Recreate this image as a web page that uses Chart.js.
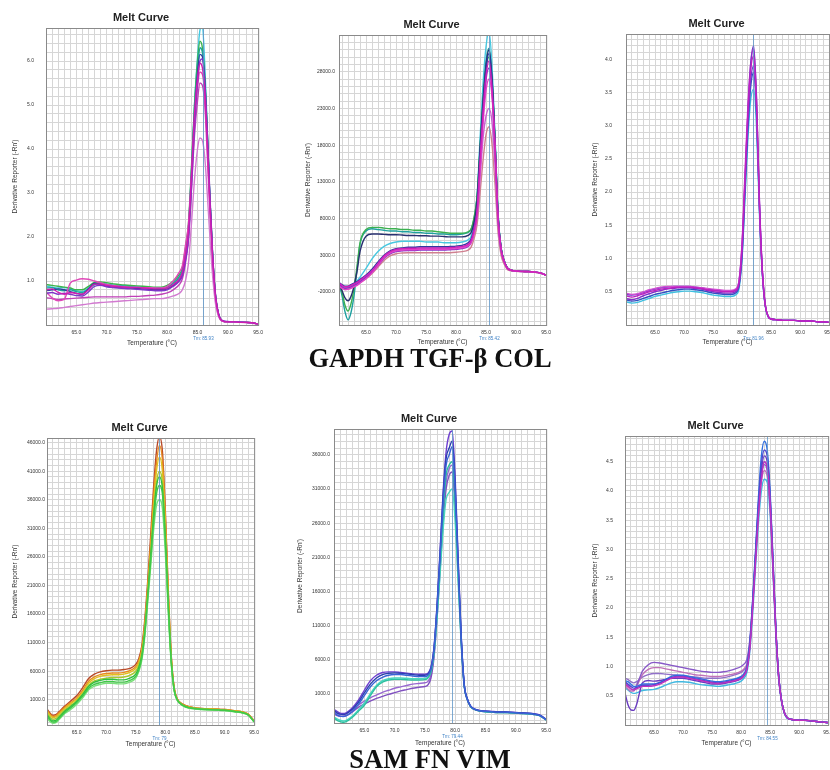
<!DOCTYPE html>
<html>
<head>
<meta charset="utf-8">
<script src="https://cdn.jsdelivr.net/npm/chart.js@4.4.1/dist/chart.umd.min.js"></script>
<style>
  html, body { margin: 0; padding: 0; width: 830px; height: 770px; overflow: hidden; background: #fff; }
  .panel { position: absolute; }
  .caption { position: absolute; left: 0; width: 860px; text-align: center; font-family: "Liberation Serif", "Times New Roman", serif; font-weight: bold; font-size: 26.5px; line-height: 26px; color: #111; }
</style>
</head>
<body>
<canvas id="gapdh" class="panel"></canvas>
<canvas id="tgf" class="panel"></canvas>
<canvas id="col" class="panel"></canvas>
<canvas id="sam" class="panel"></canvas>
<canvas id="fn" class="panel"></canvas>
<canvas id="vim" class="panel"></canvas>
<div class="caption" style="top:345px">GAPDH TGF-β COL</div>
<div class="caption" style="top:746px">SAM FN VIM</div>
<script>
// x axis labels (°C)
const tempTicks = [65, 70, 75, 80, 85, 90, 95];

// GAPDH
const gapdhTemp = [60,61,62,63,64,65,66,67,68,69,70,71,72,73,74,75,76,77,78,79,80,81,82,82.5,83,83.5,84,84.5,85,85.4,85.8,86.2,86.6,87,87.5,88,88.5,89,90,91,92,93,94,95];
const gapdhCurves = [
  [0.80,0.82,0.74,0.70,0.74,0.72,0.70,0.80,0.93,0.93,0.90,0.88,0.87,0.86,0.85,0.85,0.84,0.83,0.82,0.82,0.84,0.92,1.05,1.2,1.6,2.1,3.4,4.8,5.6,5.95,5.85,5.3,4.2,2.9,1.5,0.6,0.22,0.1,0.07,0.07,0.06,0.06,0.05,0.02],
  [0.72,0.74,0.70,0.72,0.70,0.67,0.66,0.75,0.88,0.90,0.87,0.85,0.84,0.83,0.82,0.81,0.80,0.79,0.78,0.78,0.80,0.88,1.0,1.12,1.45,1.95,3.1,4.5,5.5,6.0,6.05,5.5,4.4,3.1,1.6,0.65,0.24,0.11,0.08,0.07,0.07,0.06,0.05,0.02],
  [0.36,0.37,0.38,0.40,0.42,0.44,0.46,0.48,0.50,0.51,0.52,0.53,0.54,0.55,0.56,0.57,0.58,0.59,0.60,0.60,0.62,0.66,0.72,0.8,1.0,1.4,2.3,3.3,4.0,4.25,4.2,3.8,3.0,2.1,1.1,0.45,0.18,0.09,0.07,0.06,0.06,0.05,0.04,0.02],
  [0.75,0.62,0.55,0.58,0.95,1.02,1.05,1.04,1.0,0.96,0.92,0.90,0.88,0.87,0.86,0.86,0.85,0.85,0.84,0.84,0.88,1.0,1.2,1.35,1.8,2.3,3.4,4.6,5.4,5.75,5.7,5.2,4.1,2.8,1.45,0.58,0.21,0.1,0.07,0.07,0.06,0.06,0.05,0.02],
  [0.62,0.60,0.58,0.59,0.60,0.61,0.62,0.63,0.64,0.64,0.64,0.64,0.64,0.64,0.65,0.65,0.66,0.67,0.68,0.70,0.73,0.80,0.92,1.05,1.4,1.95,3.1,4.3,5.1,5.5,5.45,5.0,3.9,2.7,1.4,0.56,0.2,0.1,0.07,0.07,0.06,0.06,0.05,0.02],
  [0.78,0.80,0.82,0.80,0.76,0.72,0.70,0.82,0.95,0.92,0.88,0.86,0.85,0.84,0.84,0.83,0.82,0.81,0.80,0.80,0.82,0.90,1.02,1.15,1.5,2.0,3.3,4.7,5.7,6.15,6.1,5.5,4.3,3.0,1.55,0.62,0.23,0.1,0.07,0.07,0.06,0.06,0.05,0.02],
  [0.84,0.85,0.80,0.78,0.80,0.76,0.74,0.82,0.92,0.94,0.92,0.90,0.89,0.88,0.87,0.86,0.85,0.84,0.83,0.83,0.86,0.95,1.1,1.25,1.65,2.2,3.5,4.9,5.8,6.3,6.2,5.6,4.4,3.0,1.55,0.62,0.23,0.1,0.07,0.07,0.06,0.06,0.05,0.02],
  [0.92,0.90,0.88,0.86,0.84,0.80,0.80,0.88,0.97,0.98,0.96,0.94,0.92,0.91,0.90,0.89,0.88,0.87,0.86,0.86,0.90,1.0,1.15,1.3,1.75,2.3,3.6,5.0,6.0,6.45,6.3,5.6,4.4,3.0,1.55,0.62,0.23,0.1,0.07,0.07,0.06,0.06,0.05,0.02],
  [0.88,0.86,0.84,0.85,0.82,0.78,0.76,0.84,0.94,0.95,0.93,0.91,0.90,0.89,0.88,0.87,0.86,0.85,0.84,0.84,0.86,0.94,1.08,1.22,1.6,2.2,3.5,5.0,6.1,6.7,6.8,5.9,4.5,3.0,1.5,0.6,0.22,0.1,0.07,0.07,0.06,0.06,0.05,0.02]
];
const gapdhTicks = [1, 2, 3, 4, 5, 6];
const gapdhTm = 85.93;

// TGF-β
const tgfTemp = [60.5,61,61.5,62,62.5,63,63.5,64,65,66,67,68,69,70,71,72,73,74,75,76,77,78,79,80,81,82,82.5,83,83.5,84,84.5,85,85.5,86,86.5,87,87.5,88,88.5,89,90,91,92,93,94,95];
const tgfCurves = [
  [-800,-1100,-1300,-1250,-1100,-900,-700,-400,200,900,1900,2900,3500,3800,3900,3950,3950,4000,4000,4000,4000,4000,4050,4100,4200,4500,5000,6500,9000,16000,22500,27500,29500,25500,17500,8000,3800,2200,1300,1000,850,800,780,720,600,300],
  [-1200,-1500,-1700,-1650,-1500,-1300,-1100,-800,-200,600,1600,2700,3300,3600,3700,3750,3750,3800,3800,3800,3800,3800,3850,3900,4000,4300,4700,6000,8300,14500,21000,25500,27000,24500,17500,8000,3800,2200,1300,1000,850,800,780,720,600,300],
  [-1000,-1300,-1500,-1450,-1300,-1100,-900,-600,0,700,1600,2600,3200,3500,3600,3650,3650,3700,3700,3700,3700,3700,3750,3800,3900,4200,4700,6200,8800,15500,22000,27000,28500,25000,17000,7800,3700,2150,1250,980,840,790,770,700,580,280],
  [-1000,-1250,-1450,-1400,-1250,-1050,-850,-550,50,800,1800,2800,3400,3700,3800,3850,3850,3900,3900,3900,3900,3900,3950,4000,4100,4400,4800,6000,8200,13500,19000,22000,23000,21000,15000,7200,3500,2100,1250,980,840,790,770,700,580,280],
  [-1100,-1400,-1600,-1550,-1400,-1200,-1000,-700,-200,500,1400,2300,2900,3200,3300,3350,3350,3350,3350,3350,3350,3350,3350,3400,3500,3700,4100,5300,7200,11500,16000,19500,20500,18000,12500,6000,3000,1800,1100,900,800,760,740,690,570,280],
  [-700,-1000,-1200,-1200,-1000,-800,-600,-300,300,1100,2100,3000,3600,3900,4000,4100,4100,4150,4150,4150,4150,4150,4200,4250,4350,4700,5200,6800,9500,17000,23500,28500,30500,26500,18000,8200,3900,2250,1300,1000,850,800,780,720,600,300],
  [-900,-1800,-2800,-3200,-2600,-1200,800,3500,5600,5900,5900,5850,5800,5800,5750,5700,5700,5650,5650,5600,5600,5550,5500,5500,5500,5700,6100,7500,10500,17500,24000,29000,31000,26800,18200,8300,3950,2250,1300,1000,850,800,780,720,600,300],
  [-900,-2000,-3800,-4600,-3600,-1500,1500,4700,6500,6800,6800,6700,6600,6600,6500,6500,6400,6400,6300,6300,6200,6100,6000,6000,6000,6200,6600,8200,11000,17500,24000,28500,30000,26000,18000,8200,3900,2250,1300,1000,850,800,780,720,600,300],
  [-800,-2500,-4700,-5800,-4800,-2500,1000,4500,6300,6600,6500,6400,6300,6300,6200,6200,6100,6100,6000,6000,5900,5900,5800,5800,5900,6100,6500,8000,11000,18000,24500,29500,31200,27000,18500,8500,4000,2300,1300,1000,850,800,780,720,600,300],
  [-900,-1300,-1500,-1400,-1200,-900,-500,0,1200,2500,3500,4200,4600,4800,4900,4900,4900,4900,4800,4800,4800,4700,4700,4700,4800,5100,5600,7500,11000,19000,26500,31500,33500,28500,19000,8600,4000,2300,1300,1000,850,800,780,720,600,300]
];
const tgfTicks = [-2000, 3000, 8000, 13000, 18000, 23000, 28000];
const tgfTm = 85.42;

// COL
const colTemp = [60,61,62,63,64,65,66,67,68,69,70,71,72,73,74,75,76,77,78,79,79.5,80,80.5,81,81.5,82,82.5,83,83.5,84,84.5,85,86,87,88,89,90,91,92,93,94,95];
const colCurves = [
  [0.44,0.42,0.44,0.47,0.50,0.52,0.54,0.55,0.56,0.57,0.57,0.57,0.56,0.55,0.53,0.52,0.51,0.50,0.50,0.53,0.66,1.2,2.2,3.2,3.85,4.05,3.3,1.8,0.8,0.3,0.13,0.09,0.08,0.07,0.07,0.07,0.06,0.06,0.06,0.05,0.05,0.04],
  [0.40,0.38,0.40,0.44,0.47,0.50,0.52,0.54,0.55,0.56,0.56,0.56,0.55,0.54,0.52,0.50,0.49,0.48,0.48,0.51,0.62,1.1,2.1,3.2,3.95,4.2,3.4,1.85,0.82,0.3,0.13,0.09,0.08,0.07,0.07,0.07,0.06,0.06,0.06,0.05,0.05,0.04],
  [0.48,0.46,0.47,0.50,0.53,0.55,0.57,0.58,0.58,0.58,0.58,0.58,0.57,0.56,0.55,0.54,0.53,0.52,0.52,0.55,0.68,1.25,2.3,3.3,3.95,4.15,3.35,1.8,0.8,0.3,0.13,0.09,0.08,0.07,0.07,0.07,0.06,0.06,0.06,0.05,0.05,0.04],
  [0.46,0.45,0.46,0.49,0.52,0.54,0.56,0.57,0.58,0.58,0.58,0.58,0.57,0.56,0.54,0.53,0.52,0.51,0.51,0.54,0.68,1.2,2.15,3.05,3.7,3.9,3.2,1.75,0.78,0.29,0.13,0.09,0.08,0.07,0.07,0.07,0.06,0.06,0.06,0.05,0.05,0.04],
  [0.38,0.36,0.37,0.40,0.43,0.46,0.48,0.50,0.52,0.53,0.54,0.54,0.53,0.52,0.50,0.48,0.47,0.46,0.46,0.49,0.60,1.05,2.0,2.95,3.6,3.8,3.15,1.75,0.78,0.29,0.13,0.09,0.08,0.07,0.07,0.07,0.06,0.06,0.06,0.05,0.05,0.04],
  [0.35,0.33,0.34,0.37,0.40,0.43,0.45,0.47,0.49,0.50,0.51,0.51,0.50,0.49,0.47,0.45,0.44,0.43,0.43,0.46,0.56,1.0,1.9,2.8,3.4,3.55,2.95,1.65,0.74,0.28,0.12,0.09,0.08,0.07,0.07,0.07,0.06,0.06,0.06,0.05,0.05,0.04]
];
const colTicks = [0.5, 1.0, 1.5, 2.0, 2.5, 3.0, 3.5, 4.0];
const colTm = 81.96;

// SAM
const samTemp = [60,60.5,61,61.5,62,63,64,65,66,67,68,69,70,71,72,73,74,75,75.5,76,76.5,77,77.5,78,78.5,79,79.5,80,80.5,81,81.5,82,83,84,85,86,87,88,89,90,91,92,93,94,95];
const samCurves = [
  [-1800,-2500,-2900,-2800,-2300,-1200,-400,500,1600,3000,3700,4000,4200,4200,4100,4100,4400,5100,6200,8200,12300,18500,25000,32000,37000,38500,37000,28500,17000,7500,2600,1000,0,-400,-550,-650,-700,-750,-800,-850,-950,-1100,-1250,-1650,-2850],
  [-2200,-2800,-3100,-3000,-2500,-1400,-700,200,1300,2700,3400,3700,3900,3900,3800,3800,4100,4800,5900,7800,11800,17800,24000,30500,35000,36000,34500,26500,16000,7200,2500,950,-50,-450,-600,-700,-750,-800,-850,-900,-1000,-1150,-1300,-1700,-2900],
  [-1600,-2300,-2700,-2600,-2100,-1000,-200,700,1900,3300,4100,4400,4600,4600,4500,4500,4800,5500,6600,8600,12700,19000,25800,33000,38300,40000,38000,29200,17500,7700,2700,1000,20,-380,-520,-620,-680,-730,-780,-830,-930,-1080,-1230,-1630,-2830],
  [-1300,-2000,-2400,-2300,-1800,-800,0,800,2000,3500,4300,4600,4800,4900,4900,5000,5300,6000,7000,9000,13000,19300,26000,33500,39000,41000,39000,30000,18000,7900,2800,1050,50,-350,-500,-600,-650,-700,-750,-800,-900,-1050,-1200,-1600,-2800],
  [-1000,-1700,-2100,-2000,-1500,-500,300,1100,2300,3900,4700,5100,5300,5400,5400,5500,5800,6500,7500,9500,13500,20000,27000,35000,41000,43500,41000,31500,18800,8200,2900,1100,100,-300,-450,-550,-600,-650,-700,-750,-850,-1000,-1150,-1550,-2750],
  [-800,-1500,-1900,-1800,-1300,-300,500,1300,2600,4200,5000,5400,5600,5700,5700,5800,6100,6800,7800,9800,14000,20500,28000,36500,42500,45500,43000,33000,19500,8500,3000,1200,200,-200,-400,-500,-550,-600,-650,-700,-800,-950,-1100,-1500,-2700],
  [-600,-1300,-1700,-1600,-1100,-100,800,1700,3100,4700,5500,5900,6100,6200,6200,6300,6500,7200,8200,10300,14800,21500,29500,38000,44500,47000,44500,34000,20000,8700,3100,1200,200,-200,-400,-500,-550,-600,-650,-700,-800,-950,-1100,-1500,-2700]
];
const samTicks = [1000, 6000, 11000, 16000, 21000, 26000, 31000, 36000, 41000, 46000];
const samTm = 79;

// FN
const fnTemp = [60,60.5,61,61.5,62,63,64,65,66,67,68,69,70,71,72,73,74,75,75.5,76,76.5,77,77.5,78,78.5,79,79.5,80,80.5,81,81.5,82,82.5,83,84,85,86,87,88,89,90,91,92,93,94,95];
const fnCurves = [
  [-1800,-2100,-2300,-2350,-2250,-1600,-600,700,2000,2900,3400,3700,3800,3800,3700,3600,3500,3500,3700,4600,7500,13500,21000,29000,34500,36000,37200,30500,19500,9000,2200,200,-800,-1200,-1500,-1600,-1650,-1700,-1700,-1750,-1800,-1850,-1900,-2000,-2200,-2800],
  [-1500,-1800,-2000,-2050,-1950,-1300,-300,1100,2400,3300,3800,4000,4050,4000,3900,3800,3700,3700,3900,4800,7700,13800,21500,30000,35500,37000,38000,31500,20000,9100,2250,220,-780,-1180,-1480,-1580,-1630,-1680,-1680,-1730,-1780,-1830,-1880,-1980,-2180,-2780],
  [-1300,-1600,-1850,-1900,-1800,-1100,0,1500,2900,3700,4100,4200,4200,4100,4000,3900,3850,3850,4000,4900,7800,14000,22000,30500,36500,39000,39500,32500,20500,9300,2300,250,-750,-1150,-1450,-1550,-1600,-1650,-1650,-1700,-1750,-1800,-1850,-1950,-2150,-2750],
  [-2600,-2900,-3100,-3200,-3100,-2500,-1600,-700,700,2000,2700,3000,3100,3100,3050,3000,3000,3050,3300,4200,7000,12800,20000,27500,33000,34500,35000,29000,18800,8700,2100,150,-850,-1250,-1550,-1650,-1700,-1750,-1750,-1800,-1850,-1900,-1950,-2050,-2250,-2850],
  [-2400,-2700,-2900,-3000,-2900,-2300,-1400,-400,1000,2200,2900,3200,3300,3300,3250,3200,3200,3250,3450,4300,6900,12000,18500,25000,29500,30500,31000,26000,17000,8000,2000,100,-850,-1250,-1550,-1650,-1700,-1750,-1750,-1800,-1850,-1900,-1950,-2050,-2250,-2850],
  [-2000,-2200,-2300,-2300,-2200,-1700,-1000,-500,-100,300,600,900,1150,1400,1600,1800,1950,2050,2300,3300,6300,12000,19000,26000,31000,33000,33500,28000,18000,8300,2000,100,-850,-1250,-1550,-1650,-1700,-1750,-1750,-1800,-1850,-1900,-1950,-2050,-2250,-2850],
  [-1700,-1900,-2000,-2000,-1900,-1400,-700,-100,400,800,1200,1500,1800,2000,2200,2400,2500,2600,2800,3800,6800,12500,19800,27000,32000,34000,34500,28800,18400,8500,2050,120,-830,-1230,-1530,-1630,-1680,-1730,-1730,-1780,-1830,-1880,-1930,-2030,-2230,-2830]
];
const fnTicks = [1000, 6000, 11000, 16000, 21000, 26000, 31000, 36000];
const fnTm = 79.44;

// VIM
const vimTemp = [60,60.5,61,61.5,62,62.5,63,64,65,66,67,68,69,70,71,72,73,74,75,76,77,78,79,80,80.5,81,81.5,82,82.5,83,83.5,84,84.5,85,85.5,86,86.5,87,87.5,88,89,90,91,92,93,94,95];
const vimCurves = [
  [0.70,0.66,0.62,0.60,0.62,0.64,0.66,0.66,0.67,0.70,0.75,0.80,0.82,0.82,0.80,0.78,0.76,0.74,0.72,0.71,0.72,0.74,0.76,0.80,0.85,0.95,1.3,2.0,2.8,3.6,4.2,4.5,4.4,3.8,2.7,1.6,0.8,0.4,0.2,0.12,0.09,0.08,0.08,0.07,0.06,0.05,0.04],
  [0.74,0.70,0.66,0.63,0.64,0.66,0.68,0.68,0.69,0.72,0.77,0.81,0.83,0.83,0.81,0.79,0.77,0.75,0.73,0.72,0.73,0.75,0.77,0.81,0.86,0.97,1.35,2.1,2.95,3.8,4.45,4.7,4.6,3.9,2.8,1.62,0.81,0.4,0.2,0.12,0.09,0.08,0.08,0.07,0.06,0.05,0.04],
  [0.76,0.74,0.70,0.66,0.66,0.68,0.70,0.70,0.70,0.73,0.78,0.83,0.85,0.85,0.83,0.81,0.79,0.77,0.75,0.74,0.75,0.77,0.79,0.83,0.88,1.0,1.4,2.15,3.0,3.9,4.6,4.85,4.7,4.0,2.85,1.65,0.82,0.4,0.2,0.12,0.09,0.08,0.08,0.07,0.06,0.05,0.04],
  [0.55,0.35,0.26,0.25,0.35,0.55,0.72,0.76,0.75,0.76,0.78,0.80,0.80,0.80,0.78,0.76,0.74,0.72,0.70,0.70,0.71,0.73,0.75,0.79,0.84,0.96,1.35,2.05,2.9,3.75,4.35,4.6,4.5,3.9,2.75,1.6,0.8,0.4,0.2,0.12,0.09,0.08,0.08,0.07,0.06,0.05,0.04],
  [0.72,0.68,0.62,0.60,0.68,0.80,0.92,1.03,1.07,1.06,1.04,1.02,1.0,0.98,0.96,0.94,0.92,0.91,0.90,0.90,0.91,0.93,0.96,1.0,1.04,1.12,1.45,2.1,2.9,3.7,4.25,4.45,4.35,3.75,2.7,1.6,0.8,0.4,0.2,0.12,0.09,0.08,0.08,0.07,0.06,0.05,0.04],
  [0.68,0.62,0.58,0.58,0.66,0.76,0.86,0.95,0.98,0.98,0.96,0.94,0.92,0.90,0.88,0.86,0.85,0.84,0.83,0.83,0.84,0.86,0.88,0.92,0.96,1.05,1.38,2.05,2.85,3.6,4.15,4.35,4.25,3.7,2.65,1.55,0.78,0.39,0.2,0.12,0.09,0.08,0.08,0.07,0.06,0.05,0.04],
  [0.80,0.78,0.74,0.72,0.74,0.78,0.82,0.86,0.88,0.88,0.87,0.86,0.85,0.84,0.83,0.82,0.81,0.80,0.80,0.80,0.81,0.83,0.86,0.90,0.94,1.02,1.36,2.05,2.88,3.7,4.28,4.5,4.4,3.8,2.72,1.6,0.8,0.4,0.2,0.12,0.09,0.08,0.08,0.07,0.06,0.05,0.04],
  [0.64,0.60,0.56,0.54,0.55,0.57,0.59,0.60,0.61,0.64,0.68,0.72,0.74,0.74,0.73,0.71,0.69,0.68,0.67,0.66,0.67,0.69,0.71,0.75,0.80,0.90,1.25,1.9,2.7,3.45,4.0,4.2,4.15,3.6,2.6,1.5,0.76,0.38,0.19,0.11,0.09,0.08,0.08,0.07,0.06,0.05,0.04]
];
const vimTicks = [0.5, 1.0, 1.5, 2.0, 2.5, 3.0, 3.5, 4.0, 4.5];
const vimTm = 84.55;

// curve colours, first one is drawn on top
const gapdhColors = ['#d01cb0', '#7e35c8', '#d27ad0', '#e048b8', '#c040b8', '#2c3e9c', '#1fa59a', '#3cb44b', '#45c8e0'];
const tgfColors = ['#d020b8', '#e040c8', '#8a30c8', '#c860d0', '#d08090', '#3038a0', '#283070', '#3cb050', '#1fa0a0', '#48c8e0'];
const colColors = ['#c020c0', '#8030c8', '#d050d0', '#6a3cd0', '#3050c0', '#40c0e0'];
const samColors = ['#40c848', '#7ae07a', '#2fbf3f', '#a8c830', '#e0c020', '#e88a20', '#b84a28'];
const fnColors = ['#3a62d6', '#2a40b0', '#7040d0', '#2cc0a0', '#48d8c0', '#8050c0', '#9868d0'];
const vimColors = ['#c030c0', '#5048d0', '#3070e0', '#6a3cc0', '#8858c8', '#c070b8', '#9070c8', '#40b8e0'];

// page layout: plot box [left, top, right, bottom] in page pixels
const panels = [
  { id: 'gapdh', temp: gapdhTemp, curves: gapdhCurves, colors: gapdhColors, ticks: gapdhTicks, tm: gapdhTm, tmText: 'Tm: 85.93', xMin: 60, yMin: 0, yMax: 6.75, yStep: 0.2, box: [46, 28, 260, 325], tickPad: 12, yTitlePad: 11, xTitleOff: 18 },
  { id: 'tgf', temp: tgfTemp, curves: tgfCurves, colors: tgfColors, ticks: tgfTicks, tm: tgfTm, tmText: 'Tm: 85.42', xMin: 60.5, yMin: -6500, yMax: 33000, yStep: 1000, box: [339, 35, 548, 325], tickPad: 4, yTitlePad: 11, xTitleOff: 17 },
  { id: 'col', temp: colTemp, curves: colCurves, colors: colColors, ticks: colTicks, tm: colTm, tmText: 'Tm: 81.96', xMin: 60, yMin: 0, yMax: 4.38, yStep: 0.1, box: [626, 34, 831, 325], tickPad: 14, yTitlePad: 11, xTitleOff: 17 },
  { id: 'sam', temp: samTemp, curves: samCurves, colors: samColors, ticks: samTicks, tm: samTm, tmText: 'Tm: 79', xMin: 60, yMin: -3400, yMax: 46800, yStep: 1000, box: [47, 438, 256, 725], tickPad: 2, yTitlePad: 10, xTitleOff: 19 },
  { id: 'fn', temp: fnTemp, curves: fnCurves, colors: fnColors, ticks: fnTicks, tm: fnTm, tmText: 'Tm: 79.44', xMin: 60, yMin: -3300, yMax: 39800, yStep: 1000, box: [334, 429, 548, 723], tickPad: 4, yTitlePad: 8, xTitleOff: 20 },
  { id: 'vim', temp: vimTemp, curves: vimCurves, colors: vimColors, ticks: vimTicks, tm: vimTm, tmText: 'Tm: 84.55', xMin: 60, yMin: 0, yMax: 4.94, yStep: 0.1, box: [625, 436, 830, 725], tickPad: 12, yTitlePad: 12, xTitleOff: 18 }
];

const PAD_L = 46, PAD_T = 30, PAD_R = 8, PAD_B = 28;

function tickText(v, marks) {
  return marks.some(m => Math.abs(m - v) < 1e-6) ? v.toFixed(1) : '';
}

// grid ticks at every multiple of step inside the axis range
function stepTicks(step) {
  return scale => {
    const out = [];
    const first = Math.ceil(scale.min / step - 1e-9);
    const last = Math.floor(scale.max / step + 1e-9);
    for (let k = first; k <= last; k++) out.push({ value: +(k * step).toFixed(6) });
    scale.ticks = out;
  };
}

const frame = {
  id: 'frame',
  afterDraw(chart) {
    const { ctx, chartArea: ca } = chart;
    ctx.save();
    ctx.strokeStyle = '#8a8a8a';
    ctx.lineWidth = 1;
    ctx.strokeRect(ca.left + 0.5, ca.top + 0.5, ca.width, ca.height);
    ctx.font = 'bold 11px Arial';
    ctx.fillStyle = '#222';
    ctx.textAlign = 'center';
    ctx.textBaseline = 'middle';
    ctx.fillText('Melt Curve', (ca.left + ca.right) / 2 - 11, ca.top - 10);
    ctx.restore();
  }
};

const tmMarker = {
  id: 'tmMarker',
  afterDatasetsDraw(chart, args, opts) {
    const { ctx, chartArea: ca, scales } = chart;
    const px = Math.round(scales.x.getPixelForValue(opts.value)) + 0.5;
    ctx.save();
    ctx.strokeStyle = 'rgba(95,150,200,0.8)';
    ctx.lineWidth = 1;
    ctx.beginPath();
    ctx.moveTo(px, ca.top);
    ctx.lineTo(px, ca.bottom);
    ctx.stroke();
    ctx.fillStyle = '#3b7fc4';
    ctx.font = '4.5px Arial';
    ctx.textAlign = 'center';
    ctx.textBaseline = 'middle';
    ctx.fillText(opts.text, px, ca.bottom + 14);
    ctx.restore();
  }
};

panels.forEach(p => {
  const [l, t, r, b] = p.box;
  const cv = document.getElementById(p.id);
  cv.width = r - l + PAD_L + PAD_R;
  cv.height = b - t + PAD_T + PAD_B;
  cv.style.left = (l - PAD_L) + 'px';
  cv.style.top = (t - PAD_T) + 'px';

  const datasets = p.curves.map((ys, i) => ({
    data: ys.map((y, k) => ({ x: p.temp[k], y: y })),
    borderColor: p.colors[i],
    borderWidth: 1.4,
    pointRadius: 0,
    fill: false,
    cubicInterpolationMode: 'monotone'
  }));

  new Chart(cv.getContext('2d'), {
    type: 'line',
    data: { datasets: datasets },
    options: {
      responsive: false,
      animation: false,
      devicePixelRatio: 1,
      layout: { padding: { left: 0, top: PAD_T, right: PAD_R, bottom: 0 } },
      plugins: {
        legend: { display: false },
        tooltip: { enabled: false },
        tmMarker: { value: p.tm, text: p.tmText }
      },
      scales: {
        x: {
          type: 'linear',
          min: p.xMin,
          max: 95,
          afterBuildTicks: stepTicks(1),
          afterFit: s => { s.height = PAD_B; },
          border: { display: false },
          grid: { color: '#d6d6d6', drawTicks: false },
          ticks: {
            autoSkip: false, maxRotation: 0, padding: 5,
            font: { family: 'Arial', size: 5 }, color: '#333',
            callback: v => tickText(v, tempTicks)
          },
          title: {
            display: true, text: 'Temperature (°C)', color: '#333',
            font: { family: 'Arial', size: 6.5 },
            padding: { top: 0, bottom: PAD_B - 3.9 - p.xTitleOff }
          }
        },
        y: {
          type: 'linear',
          min: p.yMin,
          max: p.yMax,
          afterBuildTicks: stepTicks(p.yStep),
          afterFit: s => { s.width = PAD_L; },
          border: { display: false },
          grid: { color: '#d6d6d6', drawTicks: false },
          ticks: {
            autoSkip: false, padding: p.tickPad,
            font: { family: 'Arial', size: 5 }, color: '#333',
            callback: v => tickText(v, p.ticks)
          },
          title: {
            display: true, text: "Derivative Reporter (-Rn')", color: '#333',
            font: { family: 'Arial', size: 6.5 },
            padding: { top: p.yTitlePad, bottom: 0 }
          }
        }
      }
    },
    plugins: [frame, tmMarker]
  });
});
</script>
</body>
</html>
